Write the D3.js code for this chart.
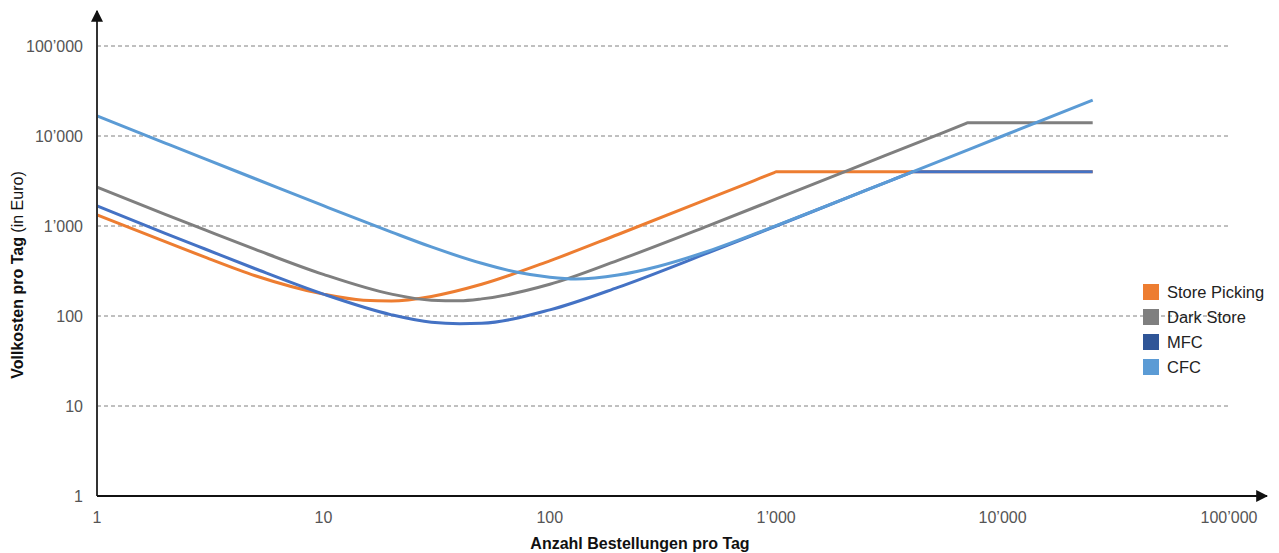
<!DOCTYPE html>
<html>
<head>
<meta charset="utf-8">
<script src="https://cdn.jsdelivr.net/npm/d3@7"></script>
<style>
  body { margin: 0; background: #fff; }
  text { font-family: "Liberation Sans", Arial, Helvetica, sans-serif; }
</style>
</head>
<body>
<svg width="1279" height="553"></svg>
<script>
var svg = d3.select("svg");

// values (orders per day -> full cost per day in Euro)
var storePickingX = [1, 2, 3, 5, 10, 15, 20, 30, 50, 100, 200, 500, 800, 980, 1000, 25000];
var storePickingY = [1330, 670, 450, 280, 175, 150, 147, 165, 225, 410, 805, 2000, 3200, 3920, 4000, 4000];
var darkStoreX = [1, 2, 3, 5, 10, 20, 30, 40, 50, 100, 200, 500, 1000, 3000, 5500, 6900, 7000, 25000];
var darkStoreY = [2700, 1350, 905, 550, 290, 175, 150, 148, 155, 225, 415, 1005, 2000, 6000, 11000, 13800, 14000, 14000];
var mfcX = [1, 2, 3, 5, 10, 20, 30, 40, 50, 100, 200, 500, 1000, 2000, 3200, 3950, 4000, 25000];
var mfcY = [1670, 830, 555, 335, 175, 103, 85, 82, 83, 117, 208, 503, 1000, 2000, 3200, 3950, 4000, 4000];
var cfcX = [1, 2, 3, 5, 10, 20, 30, 50, 70, 100, 130, 200, 300, 500, 1000, 2000, 4000, 10000, 25000];
var cfcY = [16700, 8350, 5570, 3350, 1680, 855, 585, 385, 310, 270, 258, 285, 355, 525, 1010, 2005, 4000, 10000, 25000];

var seriesNames = ["Store Picking", "Dark Store", "MFC", "CFC"];
var lineColors = ["#ED7D31", "#7F7F7F", "#4472C4", "#5B9BD5"];
var legendColors = ["#ED7D31", "#7F7F7F", "#2F5597", "#5B9BD5"];

var xTicks = [1, 10, 100, 1000, 10000, 100000];
var yTicks = [1, 10, 100, 1000, 10000, 100000];

var series = [
  d3.zip(storePickingX, storePickingY),
  d3.zip(darkStoreX, darkStoreY),
  d3.zip(mfcX, mfcY),
  d3.zip(cfcX, cfcY)
];

var x = d3.scaleLog().domain([1, 100000]).range([97, 1229]);
var y = d3.scaleLog().domain([1, 100000]).range([496, 46]);

function fmt(v) {
  return d3.format(",")(v).replace(/,/g, "\u2019");
}

// dashed grid
svg.append("g")
   .selectAll("line")
   .data(yTicks.slice(1))
   .enter()
   .append("line")
   .attr("x1", x(1))
   .attr("x2", x(100000))
   .attr("y1", function(d) { return y(d); })
   .attr("y2", function(d) { return y(d); })
   .attr("stroke", "#808080")
   .attr("stroke-width", 1)
   .attr("stroke-dasharray", "4,3");

// y tick labels
svg.append("g")
   .selectAll("text")
   .data(yTicks)
   .enter()
   .append("text")
   .attr("x", 83)
   .attr("y", function(d) { return y(d) + 6; })
   .attr("text-anchor", "end")
   .style("font-size", "16px")
   .style("fill", "#555")
   .text(fmt);

// x tick labels
svg.append("g")
   .selectAll("text")
   .data(xTicks)
   .enter()
   .append("text")
   .attr("x", function(d) { return x(d); })
   .attr("y", 523)
   .attr("text-anchor", "middle")
   .style("font-size", "16px")
   .style("fill", "#555")
   .text(fmt);

// series lines
var line = d3.line()
  .x(function(d) { return x(d[0]); })
  .y(function(d) { return y(d[1]); })
  .curve(d3.curveMonotoneX);

svg.append("g")
   .selectAll("path")
   .data(series)
   .enter()
   .append("path")
   .attr("d", line)
   .attr("fill", "none")
   .attr("stroke", function(d, i) { return lineColors[i]; })
   .attr("stroke-width", 3)
   .attr("stroke-linejoin", "round");

// axes with arrows
svg.append("defs").append("marker")
   .attr("id", "arrow")
   .attr("viewBox", "0 0 10 10")
   .attr("refX", 9)
   .attr("refY", 5)
   .attr("markerWidth", 6)
   .attr("markerHeight", 6)
   .attr("markerUnits", "strokeWidth")
   .attr("orient", "auto")
   .append("path")
   .attr("d", "M0,0 L10,5 L0,10 z")
   .attr("fill", "#111");

svg.append("line")
   .attr("x1", x(1)).attr("y1", y(1))
   .attr("x2", x(1)).attr("y2", 11)
   .attr("stroke", "#333").attr("stroke-width", 2)
   .attr("marker-end", "url(#arrow)");

svg.append("line")
   .attr("x1", x(1)).attr("y1", y(1))
   .attr("x2", 1267).attr("y2", y(1))
   .attr("stroke", "#111").attr("stroke-width", 2)
   .attr("marker-end", "url(#arrow)");

// axis titles
svg.append("text")
   .attr("x", 640)
   .attr("y", 549)
   .attr("text-anchor", "middle")
   .style("font-size", "16px")
   .style("font-weight", "bold")
   .style("fill", "#111")
   .text("Anzahl Bestellungen pro Tag");

var yTitle = svg.append("text")
   .attr("transform", "translate(23,275) rotate(-90)")
   .attr("text-anchor", "middle")
   .style("font-size", "16px")
   .style("fill", "#111");
yTitle.append("tspan").style("font-weight", "bold").text("Vollkosten pro Tag");
yTitle.append("tspan").text(" (in Euro)");

// legend
var legend = svg.append("g")
   .selectAll("g")
   .data(seriesNames)
   .enter()
   .append("g")
   .attr("transform", function(d, i) { return "translate(1143," + (284 + i * 25) + ")"; });

legend.append("rect")
   .attr("width", 16)
   .attr("height", 16)
   .attr("fill", function(d, i) { return legendColors[i]; });

legend.append("text")
   .attr("x", 24)
   .attr("y", 14)
   .style("font-size", "16.5px")
   .style("fill", "#222")
   .text(function(d) { return d; });
</script>
</body>
</html>
